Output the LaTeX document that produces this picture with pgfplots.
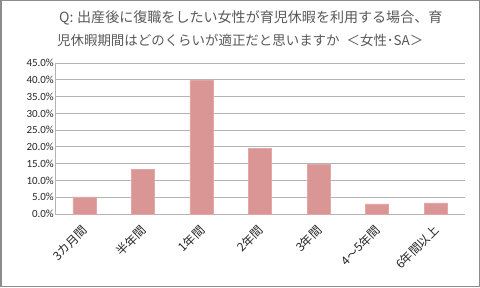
\documentclass[border=0pt]{standalone}
\usepackage{pgfplots}
\pgfplotsset{compat=1.18}
\usepackage{fontspec}
\setmainfont{Carlito}
\newfontfamily\cjk{Noto Sans CJK JP}
\definecolor{barfill}{HTML}{D99694}
\definecolor{barline}{HTML}{E3A8A6}
\definecolor{gridc}{HTML}{B4B4B4}
\definecolor{titlec}{HTML}{595959}
\definecolor{framec}{HTML}{8C8C8C}
\begin{document}
\begin{tikzpicture}[x=1bp,y=1bp]
\useasboundingbox (0,0) rectangle (480,287);
\fill[white] (0,0) rectangle (480,287);
\draw[framec,line width=1.5bp] (0.75,0.75) rectangle (479.25,286.25);
\node[anchor=west,inner sep=0,text=titlec,font=\cjk\fontsize{14.1}{15}\selectfont] at (59,269) {\makebox[18bp][l]{Q:}出産後に復職をしたい女性が育児休暇を利用する場合、育};
\node[anchor=west,inner sep=0,text=titlec,font=\cjk\fontsize{13.5}{14}\selectfont] at (57,247) {児休暇期間はどのくらいが適正だと思いますか\hspace{7bp}＜女性･SA＞};
\begin{axis}[
  at={(55bp,73bp)}, anchor=south west,
  scale only axis, width=410bp, height=151bp,
  xmin=-0.5, xmax=6.5, ymin=0, ymax=45,
  ytick={0,5,...,45},
  yticklabel={\pgfmathprintnumber[fixed,fixed zerofill,precision=1]{\tick}\%},
  /pgf/number format/assume math mode=true,
  yticklabel style={font=\fontsize{11}{12}\selectfont, text=black!85, inner sep=1bp},
  xtick={0,...,6},
  xticklabels={3カ月間,半年間,1年間,2年間,3年間,4～5年間,6年間以上},
  xticklabel style={font=\cjk\fontsize{12}{13}\selectfont, xshift=1bp, yshift=-14bp, rotate=45, anchor=east, inner sep=0bp, text=black!85},
  major tick length=0pt,
  ymajorgrids, grid style={gridc, line width=0.8bp},
  axis line style={gridc, line width=0.8bp},
  axis x line*=bottom, axis y line*=left,
  ybar, bar width=23bp,
]
\addplot[fill=barfill, draw=barline] coordinates {(0,5.1) (1,13.4) (2,40.0) (3,19.6) (4,14.9) (5,3.0) (6,3.3)};
\end{axis}
\end{tikzpicture}
\end{document}
